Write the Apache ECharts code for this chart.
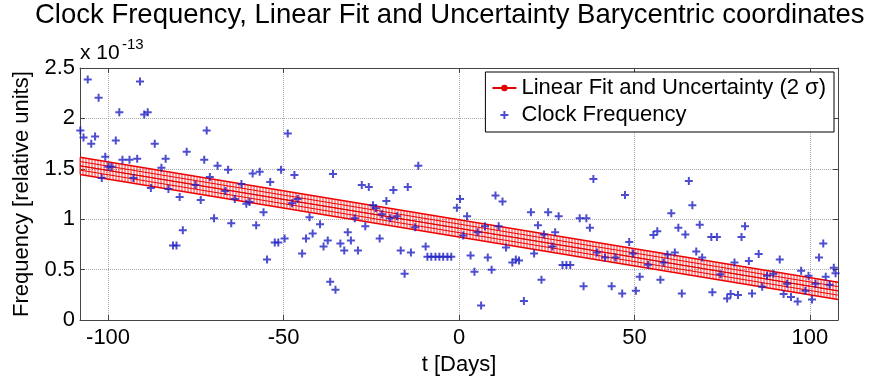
<!DOCTYPE html>
<html>
<head>
<meta charset="utf-8">
<script src="https://cdn.jsdelivr.net/npm/echarts@6/dist/echarts.min.js"></script>
<style>
  html, body { margin: 0; background: #fff; }
  #main { width: 875px; height: 381px; }
</style>
</head>
<body>
<div id="main"></div>
<script>
// clock frequency samples: day offset / frequency (x 1e-13)
var days = [
  -107.9, -107.0, -105.8, -104.8, -103.7, -102.7, -101.8, -100.8, -99.9, -99.0,
  -97.8, -96.8, -95.9, -93.9, -92.8, -91.7, -90.9, -89.7, -88.7, -87.8,
  -86.7, -84.8, -83.6, -82.8, -81.5, -80.5, -79.6, -78.7, -77.6, -75.1,
  -73.6, -72.6, -71.9, -71.0, -69.8, -68.8, -66.6, -65.8, -64.9, -63.9,
  -62.0, -60.6, -59.7, -58.8, -57.8, -56.8, -55.7, -54.7, -53.8, -52.5,
  -51.5, -50.7, -49.7, -48.8, -47.6, -46.9, -46.0, -44.7, -43.6, -42.6,
  -41.7, -39.6, -38.6, -37.4, -36.7, -35.9, -35.2, -33.8, -32.7, -31.7,
  -30.8, -29.7, -28.8, -27.7, -26.7, -25.7, -24.5, -23.7, -22.6, -22.0,
  -20.7, -19.6, -18.7, -17.7, -16.6, -15.5, -14.6, -13.7, -12.5, -11.6,
  -9.5, -9.0, -7.9, -6.7, -5.6, -4.5, -3.3, -2.2, -0.6, 0.3,
  1.2, 2.3, 3.3, 4.4, 5.3, 6.3, 7.4, 8.2, 9.3, 10.4,
  11.3, 12.4, 13.4, 15.2, 16.2, 17.1, 18.5, 20.5, 21.4, 22.5,
  23.5, 24.2, 25.4, 26.6, 27.4, 28.4, 29.5, 30.6, 31.7, 34.4,
  35.5, 36.3, 37.3, 38.3, 39.3, 41.6, 43.5, 44.6, 46.5, 47.3,
  48.5, 49.6, 50.4, 51.5, 53.9, 55.4, 56.5, 57.4, 58.3, 59.4,
  60.5, 61.5, 62.5, 63.5, 64.5, 65.5, 66.5, 67.6, 68.6, 69.3,
  71.9, 72.2, 73.5, 74.5, 76.4, 77.4, 78.5, 79.5, 80.5, 81.5,
  82.6, 83.5, 85.4, 86.4, 87.8, 89.6, 91.4, 92.5, 93.5, 94.6,
  96.5, 97.5, 98.7, 99.6, 100.6, 101.6, 102.6, 103.8, 104.5, 105.6,
  106.8, 107.3
];
var freq = [
  1.88, 1.81, 2.385, 1.75, 1.82, 2.206, 1.41, 1.62, 1.52, 1.52,
  1.78, 2.06, 1.59, 1.59, 1.41, 1.60, 2.366, 2.04, 2.06, 1.31,
  1.75, 1.51, 1.60, 1.30, 0.74, 0.74, 1.22, 0.89, 1.67, 1.34,
  1.19, 1.59, 1.88, 1.42, 1.01, 1.53, 1.28, 1.49, 0.96, 1.20,
  1.35, 1.155, 1.17, 1.455, 0.94, 1.47, 1.07, 0.60, 1.37, 0.77,
  0.77, 1.49, 0.81, 1.85, 1.16, 1.44, 1.20, 0.66, 0.81, 1.02,
  0.86, 0.95, 0.73, 0.79, 0.38, 1.45, 0.30, 0.76, 0.69, 0.87,
  0.79, 1.01, 0.69, 1.34, 0.93, 1.32, 1.14, 1.11, 0.81, 1.05,
  1.18, 1.01, 1.29, 1.03, 0.69, 0.46, 1.32, 0.67, 0.92, 1.53,
  0.73, 0.627, 0.627, 0.627, 0.627, 0.627, 0.627, 0.627, 1.115, 1.20,
  0.84, 1.03, 0.64, 0.48, 0.87, 0.146, 0.93, 0.62, 0.50, 1.235,
  0.93, 1.175, 0.72, 0.57, 0.60, 0.59, 0.19, 1.07, 0.66, 0.94,
  0.40, 0.85, 1.07, 0.73, 0.87, 1.03, 0.546, 0.546, 0.546, 1.01,
  0.335, 1.01, 0.915, 1.40, 0.67, 0.62, 0.335, 0.62, 0.265, 1.24,
  0.775, 0.66, 0.29, 0.43, 0.55, 0.845, 0.88, 0.40, 0.57, 0.65,
  1.06, 0.67, 0.915, 0.265, 0.85, 1.38, 1.14, 0.68, 0.945, 0.62,
  0.825, 0.275, 0.825, 0.455, 0.215, 0.26, 0.57, 0.25, 0.825, 0.93,
  0.585, 0.265, 0.655, 0.33, 0.44, 0.46, 0.60, 0.26, 0.36, 0.23,
  0.185, 0.49, 0.29, 0.44, 0.205, 0.36, 0.62, 0.76, 0.43, 0.35,
  0.52, 0.465
];

// linear fit endpoints and 2 sigma half width
var fitDays = [-108, 108];
var fitFreq = [1.53, 0.29];
var fitHalfWidth = 0.085;

var xTicks = [-100, -50, 0, 50, 100];

var fitName = 'Linear Fit and Uncertainty (2 \u03c3)';
var clockName = 'Clock Frequency';
var plusPath = 'path://M3,0H5V3H8V5H5V8H3V5H0V3H3Z';

var points = days.map(function (d, i) { return [d, freq[i]]; });
var fitLine = fitDays.map(function (d, i) { return [d, fitFreq[i]]; });

// hatched band: edge lines + vertical strokes
function renderBand(params, api) {
    var p0 = api.coord([api.value(0), api.value(1)]);
    var p1 = api.coord([api.value(2), api.value(3)]);
    var h = api.size([0, api.value(4)])[1];
    var kids = [];
    for (var x = p0[0]; x <= p1[0]; x += 3) {
        var t = (x - p0[0]) / (p1[0] - p0[0]);
        var yc = p0[1] + t * (p1[1] - p0[1]);
        kids.push({
            type: 'line',
            shape: { x1: x, y1: yc - h, x2: x, y2: yc + h },
            style: { stroke: '#ff2a2a', lineWidth: 1 }
        });
    }
    [-1, -0.5, 0, 0.5, 1].forEach(function (k) {
        kids.push({
            type: 'line',
            shape: { x1: p0[0], y1: p0[1] - k * h, x2: p1[0], y2: p1[1] - k * h },
            style: { stroke: '#ee0000', lineWidth: (k === 1 || k === -1) ? 1.5 : 1 }
        });
    });
    return { type: 'group', children: kids };
}

var axisColor = '#444';
var chart = echarts.init(document.getElementById('main'));

var option = {
    animation: false,
    textStyle: { fontFamily: 'Liberation Sans, Arial, sans-serif', color: '#000' },
    title: {
        text: 'Clock Frequency, Linear Fit and Uncertainty Barycentric coordinates',
        left: 35,
        top: 1,
        padding: 0,
        textStyle: { fontSize: 27.5, fontWeight: 'normal', color: '#000' }
    },
    grid: { left: 80, right: 37, top: 68, bottom: 57 },
    legend: {
        orient: 'vertical',
        right: 41,
        top: 72,
        padding: [5, 8, 6, 6],
        itemGap: 5,
        itemWidth: 24,
        itemHeight: 8,
        backgroundColor: '#fff',
        borderColor: '#000',
        borderWidth: 1,
        borderRadius: 0,
        textStyle: { fontSize: 22, color: '#000' },
        data: [fitName, clockName]
    },
    graphic: [
        { type: 'text', left: 80, top: 43, style: { text: 'x 10', fontSize: 21, fill: '#000', fontFamily: 'Liberation Sans' } },
        { type: 'text', left: 122, top: 37, style: { text: '-13', fontSize: 15, fill: '#000', fontFamily: 'Liberation Sans' } }
    ],
    xAxis: [{
        type: 'value', min: -108, max: 108, position: 'bottom',
        name: 't [Days]', nameLocation: 'middle', nameGap: 25,
        nameTextStyle: { fontSize: 22, color: '#000' },
        axisLine: { onZero: false, lineStyle: { color: axisColor } },
        axisTick: { inside: true, length: 5, customValues: xTicks, lineStyle: { color: axisColor } },
        axisLabel: { customValues: xTicks, fontSize: 22, color: '#000', margin: 7 },
        splitLine: { show: true, lineStyle: { type: 'dotted', color: '#aaa' } }
    }, {
        type: 'value', min: -108, max: 108, position: 'top',
        axisLine: { onZero: false, lineStyle: { color: axisColor } },
        axisTick: { inside: true, length: 5, customValues: xTicks, lineStyle: { color: axisColor } },
        axisLabel: { show: false },
        splitLine: { show: false }
    }],
    yAxis: [{
        type: 'value', min: 0, max: 2.5, interval: 0.5, position: 'left',
        name: 'Frequency [relative units]', nameLocation: 'middle', nameGap: 47, nameRotate: 90,
        nameTextStyle: { fontSize: 22, color: '#000' },
        axisLine: { show: true, onZero: false, lineStyle: { color: axisColor } },
        axisTick: { show: true, inside: true, length: 5, lineStyle: { color: axisColor } },
        axisLabel: { fontSize: 22, color: '#000', margin: 5 },
        splitLine: { show: true, lineStyle: { type: 'dotted', color: '#aaa' } }
    }, {
        type: 'value', min: 0, max: 2.5, interval: 0.5, position: 'right',
        axisLine: { show: true, onZero: false, lineStyle: { color: axisColor } },
        axisTick: { show: true, inside: true, length: 5, lineStyle: { color: axisColor } },
        axisLabel: { show: false },
        splitLine: { show: false }
    }],
    series: [{
        name: fitName,
        type: 'line',
        data: fitLine,
        symbol: 'circle',
        symbolSize: 3,
        showSymbol: false,
        lineStyle: { color: '#e00000', width: 1 },
        itemStyle: { color: '#e00000' },
        z: 2
    }, {
        name: fitName,
        type: 'custom',
        renderItem: renderBand,
        data: [[fitDays[0], fitFreq[0], fitDays[1], fitFreq[1], fitHalfWidth]],
        itemStyle: { color: '#e00000' },
        z: 2
    }, {
        name: clockName,
        type: 'scatter',
        data: points,
        symbol: plusPath,
        symbolSize: 8,
        itemStyle: { color: '#2121c4' },
        z: 3
    }]
};

chart.setOption(option);
</script>
</body>
</html>
